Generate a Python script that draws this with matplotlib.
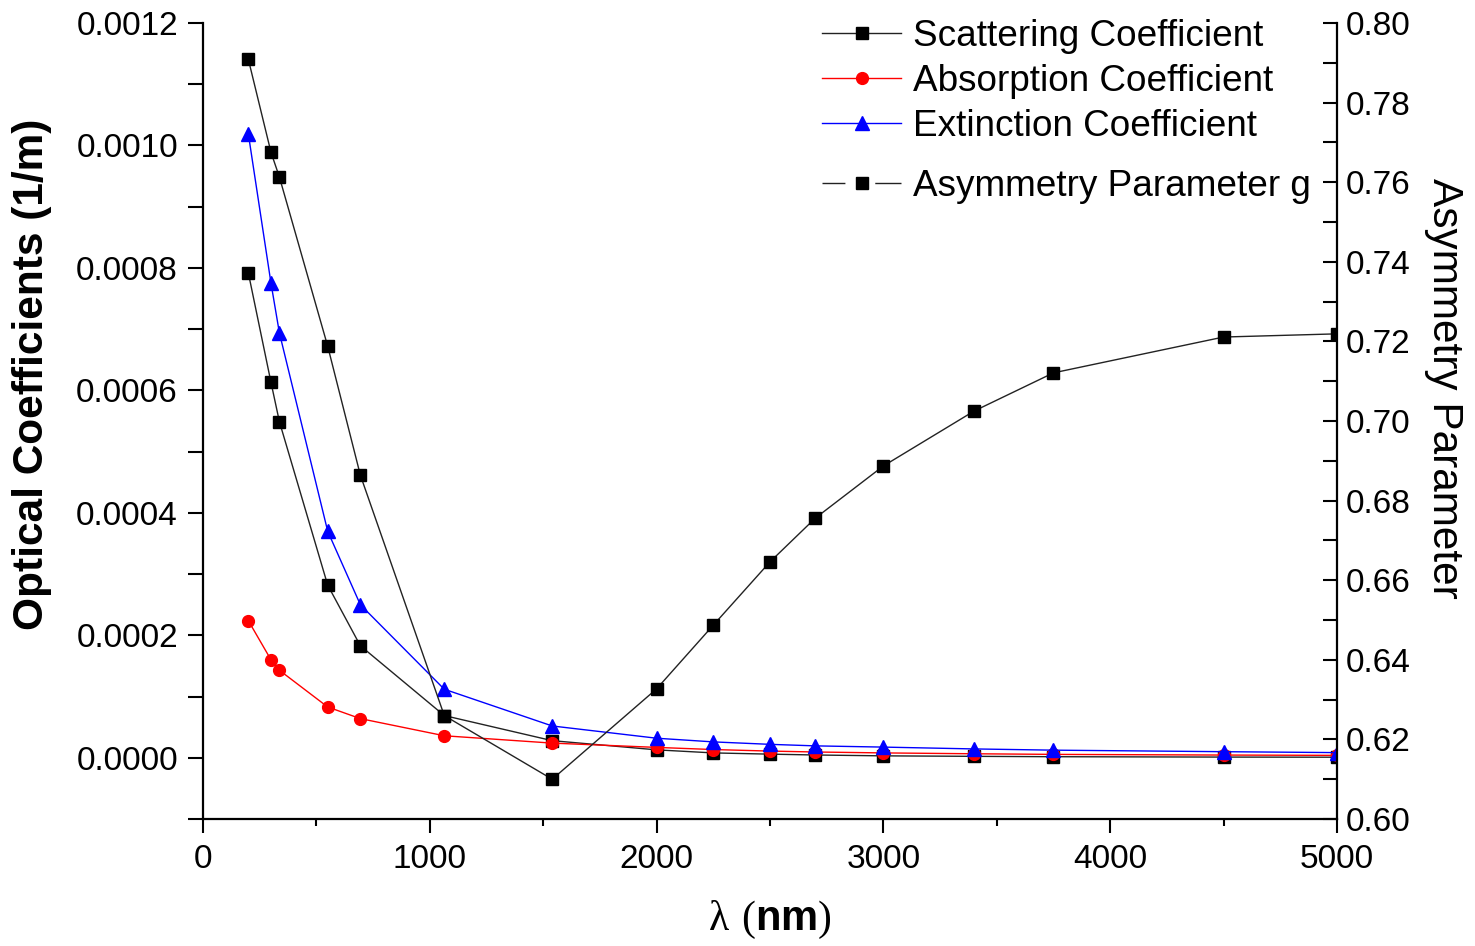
import numpy as np
import matplotlib.pyplot as plt
from matplotlib.lines import Line2D
from matplotlib.ticker import MultipleLocator, FormatStrFormatter

plt.rcParams['font.family'] = ['Liberation Sans', 'DejaVu Sans']
plt.rcParams['mathtext.fontset'] = 'custom'
plt.rcParams['mathtext.rm'] = 'Liberation Serif'
plt.rcParams['mathtext.bf'] = 'Liberation Sans:bold'

# wavelengths (nm) and the values
wavelength = [200, 300, 337, 550, 694, 1064, 1540, 2000, 2250, 2500,
              2700, 3000, 3400, 3750, 4500, 5000]
scattering = [7.92e-4, 6.13e-4, 5.49e-4, 2.82e-4, 1.83e-4, 6.9e-5, 2.8e-5, 1.3e-5,
              8.0e-6, 6.0e-6, 4.6e-6, 3.2e-6, 2.4e-6, 1.8e-6, 1.2e-6, 1.0e-6]
absorption = [2.24e-4, 1.60e-4, 1.43e-4, 8.3e-5, 6.4e-5, 3.6e-5, 2.4e-5, 1.7e-5,
              1.35e-5, 1.1e-5, 9.5e-6, 8.0e-6, 6.6e-6, 5.6e-6, 4.5e-6, 4.0e-6]
extinction = [1.019e-3, 7.75e-4, 6.94e-4, 3.70e-4, 2.50e-4, 1.12e-4, 5.2e-5, 3.2e-5,
              2.6e-5, 2.2e-5, 1.95e-5, 1.75e-5, 1.45e-5, 1.25e-5, 1.0e-5, 8.5e-6]
asymmetry = [0.7909, 0.7675, 0.7613, 0.7188, 0.6864, 0.626, 0.610, 0.6327,
             0.6487, 0.6646, 0.6756, 0.6887, 0.7025, 0.7121, 0.7211, 0.7219]

BLACK = '#222222'
RED = '#ff0000'
BLUE = '#0000ff'

fig = plt.figure(figsize=(14.75, 9.46), dpi=100)
ax = fig.add_axes([0.1376, 0.1342, 0.7688, 0.8415])
ax2 = ax.twinx()

ax.plot(wavelength, scattering, color=BLACK, lw=1.0, marker='s', ms=8,
        mfc='k', mec='k')
ax.plot(wavelength, absorption, color=RED, lw=1.0, marker='o', ms=8.5,
        mfc=RED, mec=RED)
ax.plot(wavelength, extinction, color=BLUE, lw=1.0, marker='^', ms=9.5,
        mfc=BLUE, mec=BLUE)
ax2.plot(wavelength, asymmetry, color=BLACK, lw=1.0, marker='s', ms=8,
         mfc='k', mec='k')

ax.set_xlim(0, 5000)
ax.set_ylim(-0.0001, 0.0012)
ax2.set_ylim(0.60, 0.80)

ax.xaxis.set_major_locator(MultipleLocator(1000))
ax.xaxis.set_minor_locator(MultipleLocator(500))
ax.yaxis.set_major_locator(MultipleLocator(0.0002))
ax.yaxis.set_minor_locator(MultipleLocator(0.0001))
ax.yaxis.set_major_formatter(FormatStrFormatter('%.4f'))
ax2.yaxis.set_major_locator(MultipleLocator(0.02))
ax2.yaxis.set_minor_locator(MultipleLocator(0.01))
ax2.yaxis.set_major_formatter(FormatStrFormatter('%.2f'))

for a in (ax, ax2):
    a.spines['top'].set_visible(False)
    for s in a.spines.values():
        s.set_linewidth(1.6)
ax.spines['right'].set_visible(False)
ax2.spines['left'].set_visible(False)
ax2.spines['bottom'].set_visible(False)

ax.tick_params(axis='y', which='both', direction='out', length=11, width=1.5,
               labelsize=24, pad=7)
ax.tick_params(axis='x', which='major', direction='out', length=10, width=1.5,
               labelsize=24, pad=8)
ax.tick_params(axis='x', which='minor', direction='out', length=5, width=1.5)
ax2.tick_params(axis='y', which='both', direction='in', length=10, width=1.5,
                labelsize=24, pad=6)

ax.set_ylabel('Optical Coefficients (1/m)', fontsize=30.5, fontweight='bold')
ax.yaxis.set_label_coords(-0.133, 0.559)
ax2.set_ylabel('Asymmetry Parameter', fontsize=30.5, rotation=270, va='bottom')
ax2.yaxis.set_label_coords(1.077, 0.541)
ax.set_xlabel(r'$\mathrm{\lambda\ (}\mathbf{nm}\mathrm{)}$', fontsize=30)
ax.xaxis.set_label_coords(0.5, -0.10)

# legends: three coefficients, then the asymmetry curve a bit lower
h_sca = Line2D([], [], color=BLACK, lw=1.0, marker='s', ms=8, mfc='k', mec='k')
h_abs = Line2D([], [], color=RED, lw=1.0, marker='o', ms=8.5, mfc=RED, mec=RED)
h_ext = Line2D([], [], color=BLUE, lw=1.0, marker='^', ms=9.5, mfc=BLUE, mec=BLUE)
h_g = Line2D([], [], color=BLACK, lw=1.0, marker='s', ms=8, mfc='k', mec='k',
             dashes=(16.5, 21.5, 30, 10))

leg_kw = dict(frameon=False, fontsize=26.6, handlelength=2.15, handletextpad=0.3,
              labelspacing=0.27, borderpad=0, borderaxespad=0, loc='upper left')
fig.legend([h_sca, h_abs, h_ext],
           ['Scattering Coefficient', 'Absorption Coefficient', 'Extinction Coefficient'],
           bbox_to_anchor=(822 / 1475, 1 - 19 / 946), **leg_kw)
fig.legend([h_g], ['Asymmetry Parameter g'],
           bbox_to_anchor=(822 / 1475, 1 - 169 / 946), **leg_kw)

fig.savefig('out.png', dpi=100)
